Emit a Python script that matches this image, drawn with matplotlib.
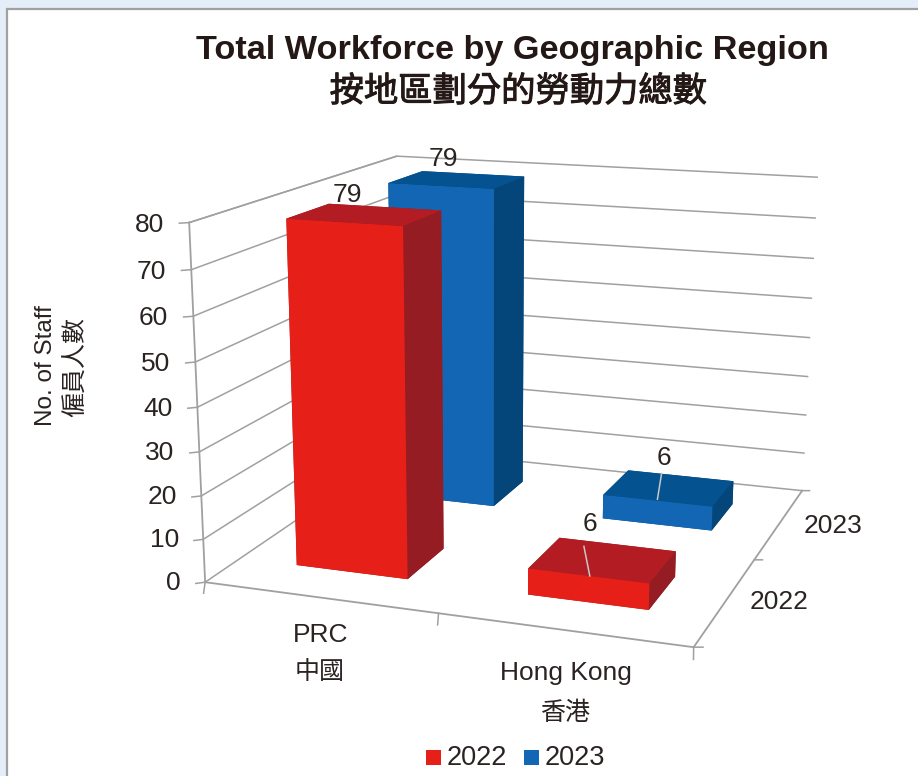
import matplotlib
matplotlib.use("Agg")
import matplotlib.pyplot as plt
import matplotlib.patheffects as pe
import numpy as np
from matplotlib.patches import Rectangle

categories = ["PRC\n中國", "Hong Kong\n香港"]
series = ["2022", "2023"]
values_2022 = [79, 6]
values_2023 = [79, 6]
z_ticks = list(range(0, 90, 10))

W, H = 918, 776
LATIN = ["Liberation Sans", "Noto Sans CJK TC"]
DARK = "#2a2321"
GRID = "#a0a0a0"

# (x, y, z) -> pixel anchors
anchors = [
    ((0, 0, 0), (205, 582)),
    ((0, 0, 80), (189, 223)),
    ((2, 0, 0), (694, 647)),
    ((2, 2, 0), (802, 491)),
    ((2, 2, 80), (817, 177)),
    ((0, 2, 80), (397, 156)),
]
rows, rhs = [], []
for (x, y, z), (u, v) in anchors:
    rows.append([x, y, z, 1, 0, 0, 0, 0, -u * x, -u * y, -u * z])
    rows.append([0, 0, 0, 0, x, y, z, 1, -v * x, -v * y, -v * z])
    rhs += [u, v]
p = np.linalg.lstsq(np.array(rows, float), np.array(rhs, float), rcond=None)[0]
P = np.append(p, 1).reshape(3, 4)


def fig_xy(x, y, z):
    # data point -> figure fraction, for labels that sit in the chart
    u, v, w = P @ np.array([x, y, z, 1.0])
    return u / w / W, 1 - v / w / H


fig = plt.figure(figsize=(W / 100, H / 100), dpi=100, facecolor="#e4eef8")
fig.add_artist(Rectangle((7 / W, -0.01), 1, 1 - 9 / H + 0.01, transform=fig.transFigure,
                         facecolor="white", edgecolor=GRID, linewidth=1.6, zorder=-1))

ax = fig.add_subplot(projection="3d", computed_zorder=False)
ax.set_position([0, 0, 1, 1])
ax.patch.set_visible(False)
ax.set_axis_off()


def chart_proj():
    # homography from the pixel anchors, written in the axes' own 2D coords
    inv = ax.transData.inverted().get_matrix()
    flip = np.array([[1, 0, 0], [0, -1, H], [0, 0, 1]], float)
    A = inv @ flip @ P
    return np.array([A[0], A[1], [0, 0, 0, -A[2][3]], A[2]])


ax.get_proj = chart_proj

# walls and floor
for z in z_ticks:
    ax.plot([0, 0, 2], [0, 2, 2], [z, z, z], color=GRID, lw=1.1, zorder=1)
    ax.plot([-0.028, 0], [-0.025, 0], [z, z], color=GRID, lw=1.1, zorder=1)
    tx, ty = fig_xy(-0.11, 0, z - 0.9)
    fig.text(tx, ty, str(z), ha="right", va="center", fontsize=19, color=DARK, family=LATIN)
ax.plot([0, 0], [0, 0], [0, 80], color=GRID, lw=1.3, zorder=1)
ax.plot([0, 0], [0, 2], [80, 80], color=GRID, lw=1.1, zorder=1)
ax.plot([0, 2, 2], [0, 0, 2], [0, 0, 0], color=GRID, lw=1.3, zorder=1)
for x in [0, 1, 2]:
    ax.plot([x, x + 0.054 - 0.013 * x], [0, -0.112], [0, 0], color=GRID, lw=1.1, zorder=1)
for y in [0, 1, 2]:
    ax.plot([2, 2.032], [y, y + 0.012], [0, 0], color=GRID, lw=1.1, zorder=1)

# bar3d face order: bottom, top, front, back, left, right
red = ["#951c22", "#b31c22", "#e62018", "#951c22", "#951c22", "#951c22"]
blue = ["#04467a", "#04528f", "#1266b3", "#04467a", "#04467a", "#04467a"]
BAR_X0, BAR_DX = 0.255, 0.49
BAR_Y0, BAR_DY = 0.305, 0.39
order = [(1, values_2023, blue, 0), (1, values_2023, blue, 1),
         (0, values_2022, red, 0), (0, values_2022, red, 1)]
for n, (s, vals, cols, c) in enumerate(order):
    ax.bar3d(c + BAR_X0, s + BAR_Y0, 0, BAR_DX, BAR_DY, vals[c], color=cols, shade=False,
             linewidth=0, zorder=2 + n)

# value labels, nudged per bar (series, category): x, y, z
label_nudge = {(0, 0): (0.38, 0.605, 3.0), (1, 0): (0.39, 0.62, 3.9),
               (0, 1): (0.405, 0.62, 5.5), (1, 1): (0.44, 0.62, 5.5)}
for s, vals in enumerate([values_2022, values_2023]):
    for c, v in enumerate(vals):
        nx, ny, nz = label_nudge[(s, c)]
        tx, ty = fig_xy(c + nx, s + ny, v + nz)
        fig.text(tx, ty, str(v), ha="center", va="center", fontsize=19, color=DARK, family=LATIN)

# leader lines on the small bars
ax.plot([1.506, 1.381], [0.307, 0.627], [values_2022[1]] * 2, color="#c8c8c8", lw=1.1, zorder=8)
ax.plot([1.495, 1.411], [1.325, 1.70], [values_2023[1]] * 2, color="#c8c8c8", lw=1.1, zorder=8)

# category and depth labels
cat_pos = [(321, 634, 671), (566, 672, 712)]
for lab, (px, y1, y2) in zip(categories, cat_pos):
    a, b = lab.split("\n")
    fig.text(px / W, 1 - (y1 + 1) / H, a, ha="center", va="center", fontsize=19, color=DARK, family=LATIN)
    fig.text((px - 1) / W, 1 - (y2 + 1) / H, b, ha="center", va="center", fontsize=18, color=DARK, family=LATIN)
fig.text(779 / W, 1 - 602 / H, series[0], ha="center", va="center", fontsize=19, color=DARK, family=LATIN)
fig.text(833 / W, 1 - 526 / H, series[1], ha="center", va="center", fontsize=19, color=DARK, family=LATIN)

fig.text(512 / W, 1 - 51 / H, "Total Workforce by Geographic Region", ha="center", va="center",
         fontsize=24.7, fontweight="bold", color="#231815", family=LATIN)
fig.text(518 / W, 1 - 92 / H, "按地區劃分的勞動力總數", ha="center", va="center", fontsize=24.7,
         color="#231815", family=["Noto Sans CJK TC"],
         path_effects=[pe.withStroke(linewidth=0.7, foreground="#231815")])
fig.text(46 / W, 1 - 366 / H, "No. of Staff", rotation=90, ha="center", va="center", fontsize=17.5,
         color=DARK, family=LATIN)
fig.text(76 / W, 1 - 367 / H, "僱員人數", rotation=90, ha="center", va="center", fontsize=18,
         color=DARK, family=LATIN)

# legend
for px, name, col in [(433, series[0], red[2]), (531, series[1], blue[2])]:
    fig.add_artist(Rectangle(((px - 7.5) / W, 1 - 765 / H), 15 / W, 15 / H, transform=fig.transFigure,
                             facecolor=col, edgecolor="none"))
    fig.text((px + 14) / W, 1 - 758 / H, name, ha="left", va="center", fontsize=19.5, color=DARK, family=LATIN)

fig.savefig("out.png", dpi=100)
